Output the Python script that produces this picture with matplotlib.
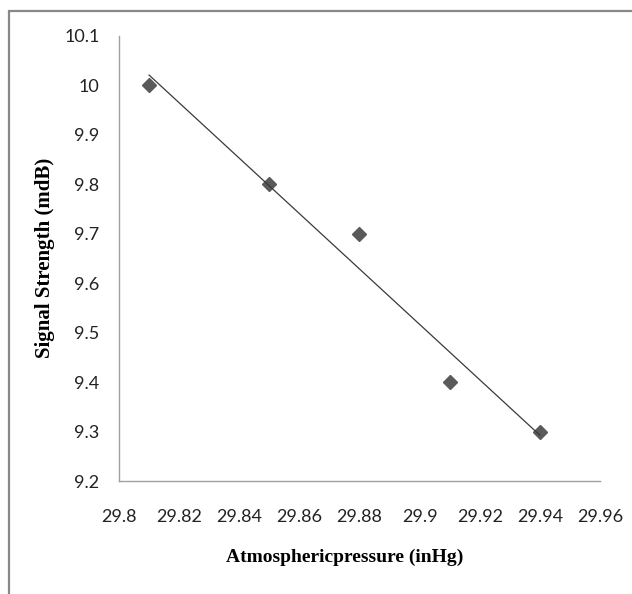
import numpy as np
import matplotlib
matplotlib.use('Agg')
import matplotlib.pyplot as plt
from matplotlib.patches import Rectangle

# data
pressure = [29.81, 29.85, 29.88, 29.91, 29.94]
signal = [10.0, 9.8, 9.7, 9.4, 9.3]
xticks = [29.8, 29.82, 29.84, 29.86, 29.88, 29.9, 29.92, 29.94, 29.96]
yticks = [9.2, 9.3, 9.4, 9.5, 9.6, 9.7, 9.8, 9.9, 10, 10.1]

W, H = 632, 594
fig = plt.figure(figsize=(W/100, H/100), dpi=100)
ax = fig.add_axes([119/W, 1-481/H, (600-119)/W, (481-36)/H])

# outer chart frame (cut off at right / bottom)
fig.patches.append(Rectangle((9/W, -0.1), 1.2, 1.1 - 11/H, transform=fig.transFigure,
                             fill=False, edgecolor='#888888', lw=1.6))

ax.plot(pressure, signal, 'D', color='#5a5a5a', ms=7.5, mec='#5a5a5a')

# linear trendline
k, b = np.polyfit(pressure, signal, 1)
xs = np.array([min(pressure), max(pressure)])
ax.plot(xs, k*xs + b, color='#3a3a3a', lw=0.9)

ax.set_xlim(29.8, 29.96)
ax.set_ylim(9.2, 10.1)
ax.set_xticks(xticks)
ax.set_yticks(yticks)
tick_font = ['Lato', 'DejaVu Sans']
ax.set_xticklabels([f'{t:g}' for t in xticks], family=tick_font, fontsize=13, color='#222222')
ax.set_yticklabels([f'{t:g}' for t in yticks], family=tick_font, fontsize=13, color='#222222')
ax.tick_params(axis='x', length=0, pad=20)
ax.tick_params(axis='y', length=0, pad=14)
for s in ['top', 'right']:
    ax.spines[s].set_visible(False)
for s in ['left', 'bottom']:
    ax.spines[s].set_color('#a0a0a0')
    ax.spines[s].set_linewidth(1.0)

fig.text(345/W, 1-557/H, 'Atmosphericpressure (inHg)', ha='center', va='center',
         family='Liberation Serif', fontweight='bold', fontsize=14)
fig.text(45/W, 1-258/H, 'Signal Strength (mdB)', ha='center', va='center', rotation=90,
         family='Liberation Serif', fontweight='bold', fontsize=15)

fig.savefig('out.png', dpi=100)
